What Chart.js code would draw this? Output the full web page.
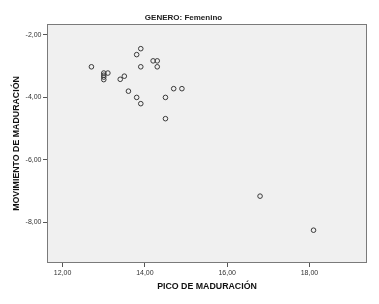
<!DOCTYPE html>
<html>
<head>
<meta charset="utf-8">
<script src="https://cdn.jsdelivr.net/npm/chart.js@4"></script>
<style>
  html, body { margin: 0; padding: 0; background: #fff; }
  #wrap { width: 379px; height: 304px; }
</style>
</head>
<body>
<div id="wrap"><canvas id="c" width="379" height="304"></canvas></div>
<script>
// pico de maduración (años)
const picoValues = [12.7, 13.0, 13.1, 13.0, 13.0, 13.0, 13.4, 13.5, 13.6, 13.8, 13.9, 13.9,
  13.8, 13.9, 14.2, 14.3, 14.3, 14.5, 14.5, 14.7, 14.9, 16.8, 18.1];
// movimiento de maduración
const movValues = [-3.02, -3.22, -3.22, -3.29, -3.35, -3.43, -3.42, -3.32, -3.80, -2.63, -2.44, -3.02,
  -4.00, -4.20, -2.83, -2.83, -3.02, -4.00, -4.68, -3.72, -3.72, -7.16, -8.25];
const xTicks = [12, 14, 16, 18];
const yTicks = [-2, -4, -6, -8];

const fmt = v => v.toFixed(2).replace('.', ',');

// fondo gris y marco del área de datos
const plotFrame = {
  id: 'plotFrame',
  beforeDatasetsDraw(chart) {
    const { ctx, chartArea: a } = chart;
    ctx.save();
    ctx.fillStyle = '#f0f0f0';
    ctx.fillRect(a.left, a.top, a.right - a.left, a.bottom - a.top);
    ctx.strokeStyle = '#7a7a7a';
    ctx.lineWidth = 1;
    ctx.strokeRect(a.left + 0.5, a.top + 0.5, a.right - a.left - 1, a.bottom - a.top - 1);
    ctx.restore();
  }
};

new Chart(document.getElementById('c'), {
  type: 'scatter',
  data: {
    datasets: [{
      data: picoValues.map((x, i) => ({ x: x, y: movValues[i] })),
      pointRadius: 2.3,
      pointHoverRadius: 2.3,
      pointBorderWidth: 1,
      pointBorderColor: '#3a3a3a',
      pointBackgroundColor: 'rgba(0,0,0,0)'
    }]
  },
  plugins: [plotFrame],
  options: {
    responsive: false,
    animation: false,
    layout: { padding: { left: 0, right: 12, top: 0, bottom: 0 } },
    plugins: {
      legend: { display: false },
      tooltip: { enabled: false },
      title: {
        display: true,
        text: 'GENERO: Femenino',
        color: '#222',
        font: { family: 'Liberation Sans', size: 8, weight: 'bold' },
        padding: { top: 13.2, bottom: 1.2 }
      }
    },
    scales: {
      x: {
        type: 'linear',
        min: 11.62,
        max: 19.4,
        afterFit(s) { s.height = 41; },
        afterBuildTicks(s) { s.ticks = xTicks.map(v => ({ value: v })); },
        border: { display: false },
        grid: { drawOnChartArea: false, drawTicks: true, tickLength: 4, color: '#555' },
        ticks: {
          padding: 1.5,
          color: '#333',
          font: { family: 'Liberation Sans', size: 7 },
          callback: v => fmt(v)
        },
        title: {
          display: true,
          text: 'PICO DE MADURACIÓN',
          color: '#111',
          font: { family: 'Liberation Sans', size: 8.8, weight: 'bold' },
          padding: { top: 0, bottom: 12.6 }
        }
      },
      y: {
        type: 'linear',
        min: -9.3,
        max: -1.65,
        afterFit(s) { s.width = 47; },
        afterBuildTicks(s) { s.ticks = yTicks.map(v => ({ value: v })); },
        border: { display: false },
        grid: { drawOnChartArea: false, drawTicks: true, tickLength: 4, color: '#555' },
        ticks: {
          padding: 1.5,
          color: '#333',
          font: { family: 'Liberation Sans', size: 7 },
          callback: v => fmt(v)
        },
        title: {
          display: true,
          text: 'MOVIMIENTO DE MADURACIÓN',
          color: '#111',
          font: { family: 'Liberation Sans', size: 8.8, weight: 'bold' },
          padding: { top: 11.7, bottom: 0 }
        }
      }
    }
  }
});
</script>
</body>
</html>
